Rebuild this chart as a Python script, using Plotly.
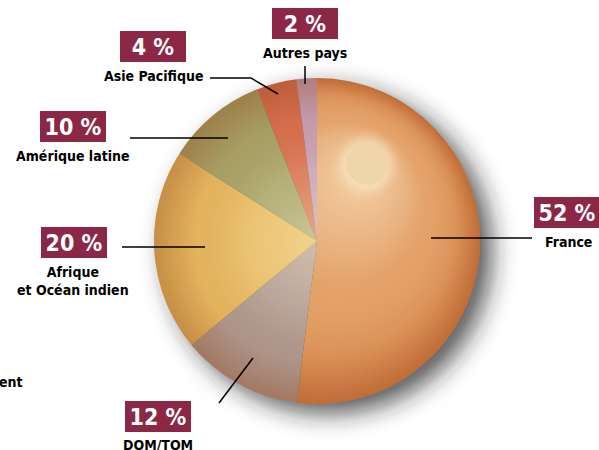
import base64
import math
import plotly.graph_objects as go

# ---- data ----
regions = ["France", "DOM/TOM", "Afrique et Océan indien", "Amérique latine",
           "Asie Pacifique", "Autres pays"]
shares = [52, 12, 20, 10, 4, 2]
pct_labels = ["52 %", "12 %", "20 %", "10 %", "4 %", "2 %"]
name_labels = ["France", "DOM/TOM", "Afrique<br>et Océan indien", "Amérique latine",
               "Asie Pacifique", "Autres pays"]
slice_colors = ["#E39E62", "#B09A90", "#E8BA62", "#A8A468", "#D8704F", "#C6A0B6"]

W, H = 599, 450
CX, CY, R = 317, 241, 163  # pie centre / radius in pixels
HX, HY, HR = 367, 164, 21  # highlight spot

BOX = "#8C2846"
FONT = "DejaVu Sans Condensed, Liberation Sans Narrow, sans-serif"

def px(x):
    return x / W

def py(y):
    return 1 - y / H

fig = go.Figure()
fig.add_trace(go.Pie(
    labels=regions, values=shares, sort=False, direction="clockwise", rotation=0,
    marker=dict(colors=slice_colors, line=dict(width=0)),
    textinfo="none", hoverinfo="label+percent", showlegend=False,
    domain=dict(x=[px(CX - R), px(CX + R)], y=[py(CY + R), py(CY - R)]),
))

def svg_uri(body):
    svg = (f'<svg xmlns="http://www.w3.org/2000/svg" width="{W}" height="{H}" '
           f'viewBox="0 0 {W} {H}">{body}</svg>')
    return "data:image/svg+xml;base64," + base64.b64encode(svg.encode()).decode()

def wedge(a0, a1):
    t0, t1 = math.radians(a0), math.radians(a1)
    x0, y0 = CX + R * math.sin(t0), CY - R * math.cos(t0)
    x1, y1 = CX + R * math.sin(t1), CY - R * math.cos(t1)
    large = 1 if (a1 - a0) > 180 else 0
    return f"M {CX} {CY} L {x0:.2f} {y0:.2f} A {R} {R} 0 {large} 1 {x1:.2f} {y1:.2f} Z"

france_end = 360 * shares[0] / sum(shares)

shadow = svg_uri(
    '<defs><filter id="b" x="-50%" y="-50%" width="200%" height="200%">'
    '<feGaussianBlur stdDeviation="12"/></filter></defs>'
    f'<circle cx="{CX + 12}" cy="{CY + 10}" r="{R}" fill="#202020" fill-opacity="0.75" filter="url(#b)"/>'
)

shade = svg_uri(
    '<defs>'
    f'<radialGradient id="g" gradientUnits="userSpaceOnUse" cx="{CX}" cy="{CY}" r="{R}" fx="{HX}" fy="{HY}">'
    '<stop offset="0" stop-color="#fff6dc" stop-opacity="0.7"/>'
    '<stop offset="0.2" stop-color="#fff2d6" stop-opacity="0.4"/>'
    '<stop offset="0.5" stop-color="#ffffff" stop-opacity="0.05"/>'
    '<stop offset="0.8" stop-color="#952f00" stop-opacity="0.12"/>'
    '<stop offset="1" stop-color="#952f00" stop-opacity="0.45"/>'
    '</radialGradient>'
    f'<radialGradient id="h" gradientUnits="userSpaceOnUse" cx="{CX}" cy="{CY}" r="{R}">'
    '<stop offset="0" stop-color="#fff8d0" stop-opacity="0.4"/>'
    '<stop offset="0.45" stop-color="#fff8e0" stop-opacity="0.12"/>'
    '<stop offset="0.75" stop-color="#8a3a10" stop-opacity="0.06"/>'
    '<stop offset="1" stop-color="#8a3a10" stop-opacity="0.35"/>'
    '</radialGradient>'
    '<filter id="s" x="-100%" y="-100%" width="300%" height="300%"><feGaussianBlur stdDeviation="5"/></filter>'
    '</defs>'
    f'<path d="{wedge(0, france_end)}" fill="url(#g)"/>'
    f'<path d="{wedge(france_end, 360)}" fill="url(#h)"/>'
    f'<circle cx="{HX}" cy="{HY}" r="{HR + 6}" fill="#fbe9c8" fill-opacity="0.6" filter="url(#s)"/>'
    f'<circle cx="{HX}" cy="{HY}" r="{HR}" fill="#EFD6A8"/>'
)

fig.add_layout_image(dict(source=shadow, xref="paper", yref="paper", x=0, y=1,
                          sizex=1, sizey=1, sizing="stretch", xanchor="left",
                          yanchor="top", layer="below"))
fig.add_layout_image(dict(source=shade, xref="paper", yref="paper", x=0, y=1,
                          sizex=1, sizey=1, sizing="stretch", xanchor="left",
                          yanchor="top", layer="above"))

# label placement (pixels): box centre, name centre, leader line points
box_pos = [(567, 212.5), (158, 416.5), (74, 242.5), (73, 127), (153, 46.5), (305, 23.5)]
name_pos = [(568, 242), (158, 445), (73, 280.5), (73, 156), (153, 76), (305, 53)]
leaders = [
    [(431, 238), (532, 238)],
    [(253, 358), (219, 403)],
    [(205, 247), (122, 247)],
    [(228, 138), (130, 138)],
    [(278, 94), (251, 78), (210, 78)],
    [(305, 84), (305, 66)],
]

for (bx, by), (nx, ny), pct, name in zip(box_pos, name_pos, pct_labels, name_labels):
    fig.add_annotation(x=px(bx), y=py(by), xref="paper", yref="paper", text=f"<b>{pct}</b>",
                       showarrow=False, bgcolor=BOX, width=66, height=31, borderpad=0,
                       borderwidth=0, xanchor="center", yanchor="middle",
                       font=dict(family=FONT, size=23, color="white"))
    fig.add_annotation(x=px(nx), y=py(ny), xref="paper", yref="paper", text=f"<b>{name}</b>",
                       showarrow=False, xanchor="center", yanchor="middle",
                       font=dict(family=FONT, size=14, color="black"))

for pts in leaders:
    path = "M " + " L ".join(f"{px(x)},{py(y)}" for x, y in pts)
    fig.add_shape(type="path", path=path, xref="paper", yref="paper",
                  line=dict(color="black", width=1.5))

fig.add_annotation(x=0, y=py(382), xref="paper", yref="paper", text="<b>ent</b>",
                   showarrow=False, xanchor="left", yanchor="middle", xshift=-3,
                   font=dict(family=FONT, size=14, color="black"))

fig.update_layout(width=W, height=H, margin=dict(l=0, r=0, t=0, b=0),
                  paper_bgcolor="white", plot_bgcolor="white")
fig.write_html("out.html", config={"displayModeBar": False},
               post_script="document.body.style.margin='0';document.body.style.overflow='hidden';")
